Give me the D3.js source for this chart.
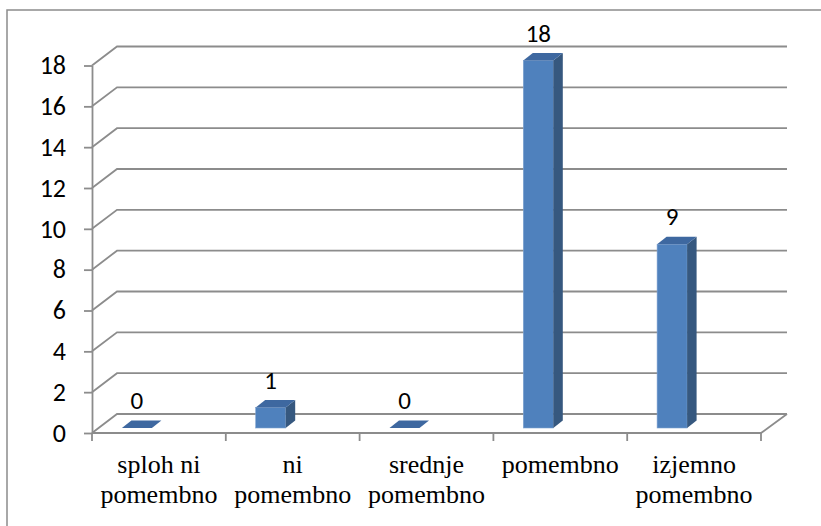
<!DOCTYPE html>
<html>
<head>
<meta charset="utf-8">
<script src="https://cdn.jsdelivr.net/npm/d3@7"></script>
</head>
<body style="margin:0">
<script>
// ---- data ----
const categories = ["sploh ni pomembno", "ni pomembno", "srednje pomembno", "pomembno", "izjemno pomembno"];
const values = [0, 1, 0, 18, 9];
const yTicks = [0, 2, 4, 6, 8, 10, 12, 14, 16, 18];

const serifFont = "Liberation Serif";
const numFont = "Carlito";

const svg = d3.select("body").append("svg").attr("width", 821).attr("height", 526);

// outer frame (extends beyond the viewport on right and bottom)
svg.append("rect").attr("x", 7).attr("y", 10).attr("width", 900).attr("height", 600)
  .attr("fill", "none").attr("stroke", "#8c8c8c").attr("stroke-width", 1.5);

const x = d3.scaleBand().domain(categories).range([92, 761]);
const y = d3.scaleLinear().domain([0, 18]).range([433, 65.5]);

// 3D wall depth
const wdx = 25, wdy = -19;
const backRight = 787;
const gridColor = "#8c8c8c";

const grid = svg.append("g").attr("fill", "none").attr("stroke", gridColor).attr("stroke-width", 1.8);
yTicks.forEach(t => {
  const yy = y(t);
  grid.append("path").attr("d", `M${x.range()[0]},${yy}L${x.range()[0] + wdx},${yy + wdy}L${backRight},${yy + wdy}`);
});
grid.append("path").attr("d", `M${x.range()[0]},${y(0)}L${x.range()[1]},${y(0)}L${backRight},${y(0) + wdy}`);

// y axis
const yAxis = d3.axisLeft(y).tickValues(yTicks).tickSize(8).tickPadding(18).tickSizeOuter(0);
const gy = svg.append("g").attr("transform", `translate(${x.range()[0]},0)`).call(yAxis);
gy.select(".domain").attr("stroke", gridColor).attr("stroke-width", 1.8);
gy.selectAll(".tick line").attr("stroke", gridColor).attr("stroke-width", 1.8);
gy.selectAll(".tick text").style("font-family", `"${numFont}"`).style("font-size", "26px").attr("fill", "#000");

// x category tick marks
const bounds = categories.map(c => x(c)).concat([x.range()[1]]);
svg.append("g").selectAll("line").data(bounds).join("line")
  .attr("x1", d => d).attr("x2", d => d).attr("y1", y(0)).attr("y2", y(0) + 8)
  .attr("stroke", gridColor).attr("stroke-width", 1.8);

// x labels (wrapped at last space)
categories.forEach(c => {
  const i = c.lastIndexOf(" ");
  const lines = i > 0 ? [c.slice(0, i), c.slice(i + 1)] : [c];
  const cx = x(c) + x.bandwidth() / 2;
  lines.forEach((ln, k) => {
    svg.append("text").attr("x", cx).attr("y", 473 + k * 30).attr("text-anchor", "middle")
      .style("font-family", `"${serifFont}"`).style("font-size", "26px").attr("fill", "#000")
      .text(ln);
  });
});

// bars
const barOffset = -22, barW = 30, bdx = 9.5, bdy = -7.5, planeDy = -5;
const bars = svg.append("g");
categories.forEach((c, i) => {
  const v = values[i];
  const cx = x(c) + x.bandwidth() / 2 + barOffset;
  const x0 = cx - barW / 2, x1 = cx + barW / 2;
  const yb = y(0) + planeDy, yt = y(v) + planeDy;
  const g = bars.append("g");
  if (v > 0) {
    g.append("rect").attr("x", x0).attr("y", yt).attr("width", barW).attr("height", yb - yt)
      .attr("fill", "#4F81BD").attr("stroke", "#7fa3d1").attr("stroke-width", 0.6);
    g.append("path").attr("d", `M${x1},${yt}L${x1 + bdx},${yt + bdy}L${x1 + bdx},${yb + bdy}L${x1},${yb}Z`)
      .attr("fill", "#36587F");
  }
  g.append("path").attr("d", `M${x0},${yt}L${x0 + bdx},${yt + bdy}L${x1 + bdx},${yt + bdy}L${x1},${yt}Z`)
    .attr("fill", "#3E68A0");
  svg.append("text").attr("x", cx).attr("y", yt + bdy - 11.5).attr("text-anchor", "middle")
    .style("font-family", `"${numFont}"`).style("font-size", "25px").attr("fill", "#000")
    .text(v);
});
</script>
</body>
</html>
